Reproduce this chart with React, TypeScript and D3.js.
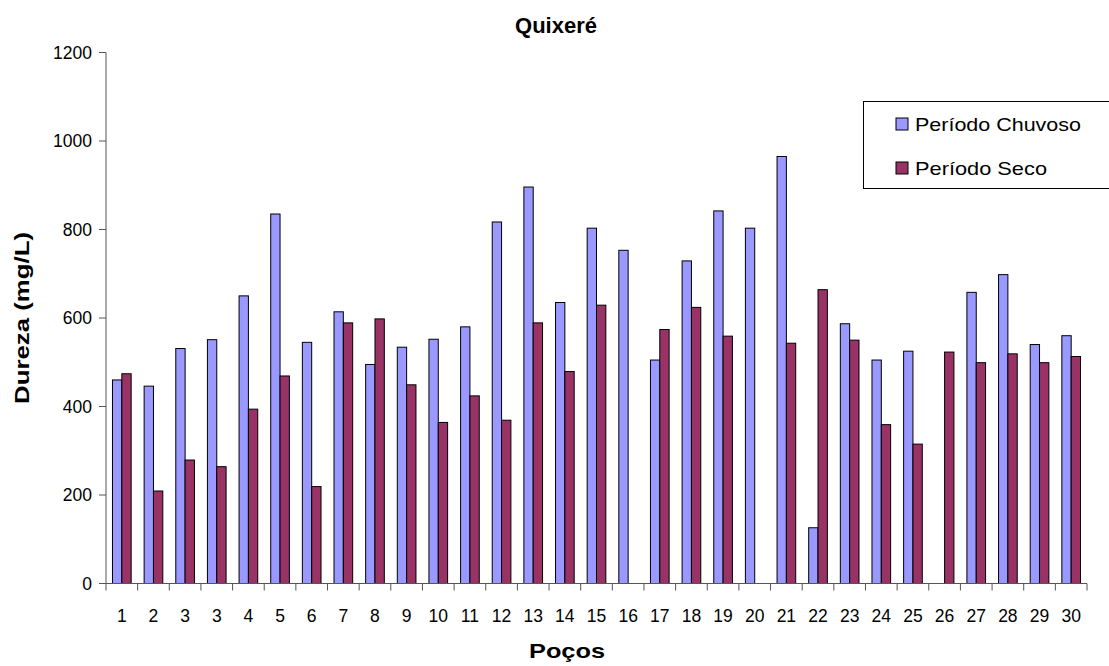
import React from "react";
import * as d3 from "d3";

// poços (note: "3" appears twice in the original)
const wells = ["1", "2", "3", "3", "4", "5", "6", "7", "8", "9", "10", "11", "12", "13", "14", "15",
  "16", "17", "18", "19", "20", "21", "22", "23", "24", "25", "26", "27", "28", "29", "30"];

const chuvoso: (number | null)[] = [460, 446, 531, 551, 650, 835, 545, 614, 495, 534, 552, 580, 817, 896, 635, 803,
  753, 505, 729, 842, 803, 965, 126, 587, 505, 525, null, 658, 698, 540, 560];

const seco: (number | null)[] = [474, 209, 279, 264, 394, 469, 219, 589, 598, 449, 364, 424, 369, 589, 479, 629,
  null, 574, 624, 559, null, 543, 664, 550, 359, 315, 523, 499, 519, 499, 513];

const yTicks = [0, 200, 400, 600, 800, 1000, 1200];

const seriesNames = ["Período Chuvoso", "Período Seco"];
const colors = ["#9999ff", "#993366"];

const W = 1109, H = 666;
const margin = {top: 52.5, right: 22, bottom: 82.5, left: 106};
const FONT = "Arial, 'Liberation Sans', sans-serif";

export default function App() {
  const innerW = W - margin.left - margin.right;
  const innerH = H - margin.top - margin.bottom;

  const y = d3.scaleLinear().domain([0, 1200]).range([innerH, 0]);

  const idx = wells.map((_, i) => String(i));
  const x0 = d3.scaleBand().domain(idx).range([0, innerW]).paddingInner(0.41).paddingOuter(0.205);
  const x1 = d3.scaleBand().domain(["c", "s"]).range([0, x0.bandwidth()]);
  const step = x0.step();
  // category boundaries for tick marks
  const bounds = d3.range(wells.length + 1).map(i => i * step);

  const series = [chuvoso, seco];

  return (
    <svg width={W} height={H} style={{position: "absolute", left: 0, top: 0, background: "#fff"}}
         fontFamily={FONT}>
      <text x={556} y={33} textAnchor="middle" fontSize={22} fontWeight="bold">Quixeré</text>

      <g transform={`translate(${margin.left},${margin.top})`}>
        {series.map((vals, si) =>
          vals.map((v, i) => v == null ? null : (
            <rect key={`${si}-${i}`}
                  x={(x0(String(i)) as number) + (x1(si === 0 ? "c" : "s") as number)}
                  y={y(v)}
                  width={x1.bandwidth()}
                  height={innerH - y(v)}
                  fill={colors[si]} stroke="#000" strokeWidth={1}/>
          ))
        )}

        {/* y axis */}
        <line x1={0} x2={0} y1={0} y2={innerH} stroke="#555"/>
        {yTicks.map(t => (
          <g key={t} transform={`translate(0,${y(t)})`}>
            <line x1={-7} x2={0} stroke="#555"/>
            <text x={-14} dy="0.36em" textAnchor="end" fontSize={17.5}>{t}</text>
          </g>
        ))}

        {/* x axis */}
        <line x1={0} x2={innerW} y1={innerH} y2={innerH} stroke="#555"/>
        {bounds.map((b, i) => (
          <line key={i} x1={b} x2={b} y1={innerH} y2={innerH + 7} stroke="#555"/>
        ))}
        {wells.map((w, i) => (
          <text key={i} x={(x0(String(i)) as number) + x0.bandwidth() / 2} y={innerH + 38}
                textAnchor="middle" fontSize={17.5}>{w}</text>
        ))}
      </g>

      <text x={567} y={658} textAnchor="middle" fontSize={21} fontWeight="bold"
            textLength={76} lengthAdjust="spacingAndGlyphs">Poços</text>
      <text transform={`translate(29,${margin.top + innerH / 2}) rotate(-90)`} textAnchor="middle"
            fontSize={21} fontWeight="bold" textLength={172} lengthAdjust="spacingAndGlyphs">Dureza (mg/L)</text>

      {/* legend */}
      <g>
        <rect x={863.5} y={101.5} width={250} height={87} fill="#fff" stroke="#000"/>
        {seriesNames.map((n, i) => (
          <g key={n} transform={`translate(896,${124 + i * 44})`}>
            <rect x={0} y={-6} width={12} height={12} fill={colors[i]} stroke="#000"/>
            <text x={19} dy="0.36em" fontSize={19}
                  textLength={i === 0 ? 166 : 132} lengthAdjust="spacingAndGlyphs">{n}</text>
          </g>
        ))}
      </g>
    </svg>
  );
}
